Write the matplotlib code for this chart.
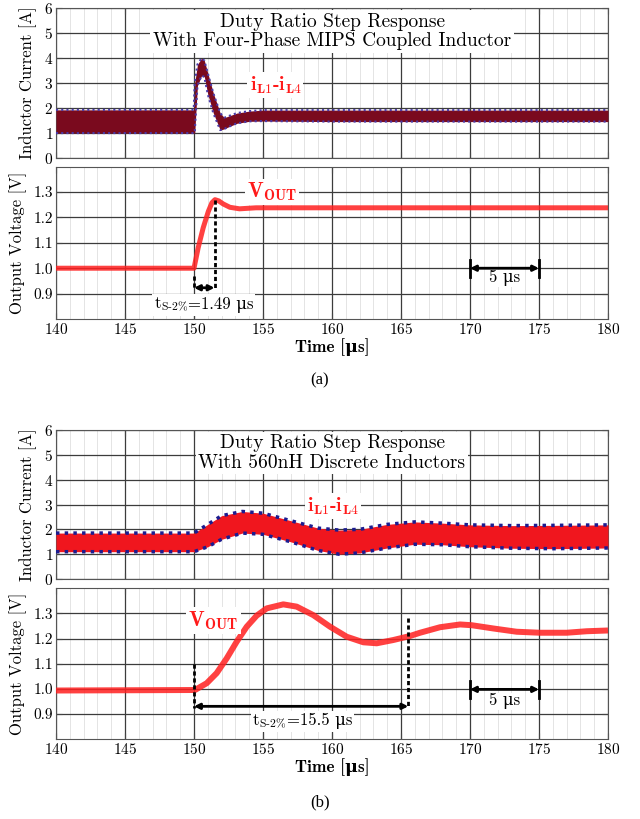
import matplotlib
matplotlib.use("Agg")
import matplotlib.pyplot as plt
from matplotlib.ticker import MultipleLocator
from matplotlib.offsetbox import TextArea, HPacker, AnnotationBbox

plt.rcParams['font.family'] = ['cmr10', 'DejaVu Serif']
plt.rcParams['mathtext.fontset'] = 'cm'
plt.rcParams['axes.unicode_minus'] = False
plt.rcParams['axes.formatter.use_mathtext'] = True

MU = '\u03bc'  # greek mu, cmr10 has no proper glyph so it falls back to DejaVu Serif

## data

# (a) coupled inductor: inductor current band (envelope of the four phases)
t_cur_a = [140, 149.98, 150.05, 150.25, 150.55, 150.75, 151.0, 151.4, 151.9, 152.2, 152.5, 153.1, 154.0, 155.0, 160, 180]
cur_hi_a = [1.93, 1.93, 3.0, 3.75, 4.0, 3.9, 3.4, 2.6, 1.8, 1.62, 1.68, 1.8, 1.88, 1.92, 1.92, 1.92]
cur_lo_a = [1.0, 1.0, 1.0, 2.9, 3.3, 3.25, 2.55, 1.8, 1.12, 1.17, 1.25, 1.39, 1.47, 1.48, 1.46, 1.46]

# (a) output voltage
t_v_a = [140, 150.0, 150.3, 150.67, 151.04, 151.3, 151.52, 151.8, 152.12, 152.6, 153.3, 154.5, 180]
v_a = [1.0, 1.0, 1.08, 1.16, 1.224, 1.258, 1.27, 1.265, 1.253, 1.24, 1.234, 1.238, 1.238]

# (b) discrete inductors: inductor current band
t_cur_b = [140, 150, 151, 152, 153.5, 155, 157, 159, 160.5, 162, 164, 166, 168, 170, 173, 176, 180]
cur_hi_b = [1.85, 1.85, 2.2, 2.55, 2.72, 2.65, 2.35, 2.05, 1.97, 2.0, 2.2, 2.3, 2.25, 2.18, 2.15, 2.16, 2.18]
cur_lo_b = [1.1, 1.1, 1.3, 1.6, 1.85, 1.8, 1.5, 1.15, 1.0, 1.05, 1.25, 1.4, 1.38, 1.3, 1.24, 1.22, 1.25]

# (b) output voltage
t_v_b = [140, 150.07, 150.92, 151.64, 152.37, 153.09, 153.82, 154.54, 155.27, 156.47, 157.44, 158.65,
         159.86, 161.07, 162.27, 163.24, 164.44, 165.65, 166.38, 167.83, 169.28, 170.12, 171.69,
         173.38, 175.07, 177.0, 178.46, 180]
v_b = [0.993, 0.995, 1.022, 1.062, 1.121, 1.187, 1.247, 1.291, 1.320, 1.336, 1.327, 1.293,
       1.247, 1.207, 1.185, 1.181, 1.194, 1.210, 1.223, 1.245, 1.256, 1.253, 1.240,
       1.227, 1.223, 1.223, 1.229, 1.232]

# settling annotations: (start, end, arrow level, text)
settle_a = (150.0, 151.49, 0.923, '1.49')
settle_b = (150.0, 165.53, 0.93, '15.5')
peak_a = 1.27
peak_b = 1.28
scale_bar = (170, 175)

titles = ['Duty Ratio Step Response\nWith Four-Phase MIPS Coupled Inductor',
          'Duty Ratio Step Response\nWith 560nH Discrete Inductors']


def style_axis(ax, ylim, yticks):
    ax.set_xlim(140, 180)
    ax.set_ylim(*ylim)
    ax.set_yticks(yticks)
    ax.xaxis.set_major_locator(MultipleLocator(5))
    ax.xaxis.set_minor_locator(MultipleLocator(1))
    ax.grid(which='major', color='#3c3c3c', lw=0.9)
    ax.grid(which='minor', axis='x', color='#e4e4e4', lw=0.7)
    ax.set_axisbelow(True)
    ax.tick_params(direction='in', top=True, right=True, labelsize=11, length=4, pad=2, color='#444444')
    ax.tick_params(which='minor', length=0)
    for s in ax.spines.values():
        s.set_color('#555555')


def current_panel(ax, t, hi, lo, fill_col, edge_col, edge_lw, title):
    ax.fill_between(t, lo, hi, color=fill_col, lw=0, zorder=3)
    ax.plot(t, hi, color=edge_col, lw=edge_lw, dashes=(1, 1.5), zorder=4)
    ax.plot(t, lo, color=edge_col, lw=edge_lw, dashes=(1, 1.5), zorder=4)
    style_axis(ax, (0, 6), range(0, 7))
    ax.set_xticklabels([])
    ax.set_ylabel('Inductor Current [A]', fontsize=12, labelpad=5)
    ax.text(0.5, 0.97, title, transform=ax.transAxes, ha='center', va='top', fontsize=14,
            linespacing=1.1, zorder=6,
            bbox=dict(facecolor='white', edgecolor='none', pad=2))


def voltage_panel(ax, t, v, lw):
    ax.plot(t, v, color='#ff2020', alpha=0.85, lw=lw, solid_capstyle='butt', zorder=3)
    style_axis(ax, (0.8, 1.4), [0.9, 1.0, 1.1, 1.2, 1.3])
    ax.set_yticklabels(['0.9', '1.0', '1.1', '1.2', '1.3'])
    ax.set_ylabel('Output Voltage [V]', fontsize=12, labelpad=5)
    ax.set_xlabel('Time [' + MU + 's]', fontsize=12.5, family=['cmb10', 'DejaVu Serif'],
                  fontweight='bold', labelpad=1)


def settle_marks(ax, settle, peak_v, v_start, text_x, text_y, fs):
    t0, t1, ylev, txt = settle
    ax.plot([t0, t0], [v_start, ylev - 0.005], color='k', lw=2, dashes=(1.5, 1), zorder=5)
    ax.plot([t1, t1], [peak_v, ylev - 0.005], color='k', lw=2, dashes=(1.5, 1), zorder=5)
    ax.annotate('', xy=(t1, ylev), xytext=(t0, ylev),
                arrowprops=dict(arrowstyle='<|-|>', color='k', lw=2, mutation_scale=8,
                                shrinkA=0, shrinkB=0), zorder=5)
    # mathtext part (t with subscript) + plain part so the mu glyph comes out right
    part1 = TextArea(r't$_{\text{S-2\%}}$', textprops=dict(fontsize=fs))
    part2 = TextArea('=' + txt + ' ' + MU + 's', textprops=dict(fontsize=fs))
    box = HPacker(children=[part1, part2], align='baseline', pad=0, sep=0)
    ab = AnnotationBbox(box, (text_x, text_y), xycoords='data', frameon=True, pad=0.1,
                        bboxprops=dict(facecolor='white', edgecolor='none'), zorder=6)
    ax.add_artist(ab)


def scale_marks(ax, ylev, text_y):
    t0, t1 = scale_bar
    for tt in (t0, t1):
        ax.plot([tt, tt], [ylev - 0.033, ylev + 0.033], color='k', lw=2, zorder=5)
    ax.annotate('', xy=(t1, ylev), xytext=(t0, ylev),
                arrowprops=dict(arrowstyle='<|-|>', color='k', lw=2, mutation_scale=8,
                                shrinkA=0, shrinkB=0), zorder=5)
    ax.text((t0 + t1) / 2, text_y, '5 ' + MU + 's', ha='center', va='center', fontsize=12, zorder=6,
            bbox=dict(facecolor='white', edgecolor='none', pad=0.5))


fig = plt.figure(figsize=(6.4, 8.19), dpi=100)

ax1 = fig.add_axes([0.0875, 0.807, 0.8625, 0.183])
ax2 = fig.add_axes([0.0875, 0.6105, 0.8625, 0.186])
ax3 = fig.add_axes([0.0875, 0.293, 0.8625, 0.182])
ax4 = fig.add_axes([0.0875, 0.0977, 0.8625, 0.184])

bold_fam = ['cmb10', 'DejaVu Serif']
lbl_box = dict(facecolor='white', edgecolor='none', pad=1.5)

# (a)
current_panel(ax1, t_cur_a, cur_hi_a, cur_lo_a, '#7a0a1e', '#4a3aa8', 1.5, titles[0])
ax1.text(155.9, 2.92, 'i$_{\\mathbf{L1}}$-i$_{\\mathbf{L4}}$', color='#ff1a1a', fontsize=14,
         family=bold_fam, ha='center', va='center', zorder=6, bbox=lbl_box)
voltage_panel(ax2, t_v_a, v_a, 3.6)
ax2.text(155.65, 1.3, 'V$_{\\mathbf{OUT}}$', color='#ff1a1a', fontsize=15, family=bold_fam,
         ha='center', va='center', zorder=6, bbox=lbl_box)
settle_marks(ax2, settle_a, peak_a, 0.97, 150.7, 0.855, 12)
scale_marks(ax2, 1.0, 0.96)

# (b)
current_panel(ax3, t_cur_b, cur_hi_b, cur_lo_b, '#f0161e', '#1c1c90', 2.5, titles[1])
ax3.text(160.1, 2.94, 'i$_{\\mathbf{L1}}$-i$_{\\mathbf{L4}}$', color='#ff1a1a', fontsize=14,
         family=bold_fam, ha='center', va='center', zorder=6, bbox=lbl_box)
voltage_panel(ax4, t_v_b, v_b, 4.3)
ax4.text(151.4, 1.272, 'V$_{\\mathbf{OUT}}$', color='#ff1a1a', fontsize=15, family=bold_fam,
         ha='center', va='center', zorder=6, bbox=lbl_box)
settle_marks(ax4, settle_b, peak_b, 1.1, 157.85, 0.87, 12)
scale_marks(ax4, 0.9975, 0.95)

fig.text(0.5, 1 - 380 / 819, '(a)', ha='center', va='center', fontsize=12, family='Liberation Serif')
fig.text(0.5, 1 - 802 / 819, '(b)', ha='center', va='center', fontsize=12, family='Liberation Serif')

plt.savefig('out.png', dpi=100)
plt.close()
